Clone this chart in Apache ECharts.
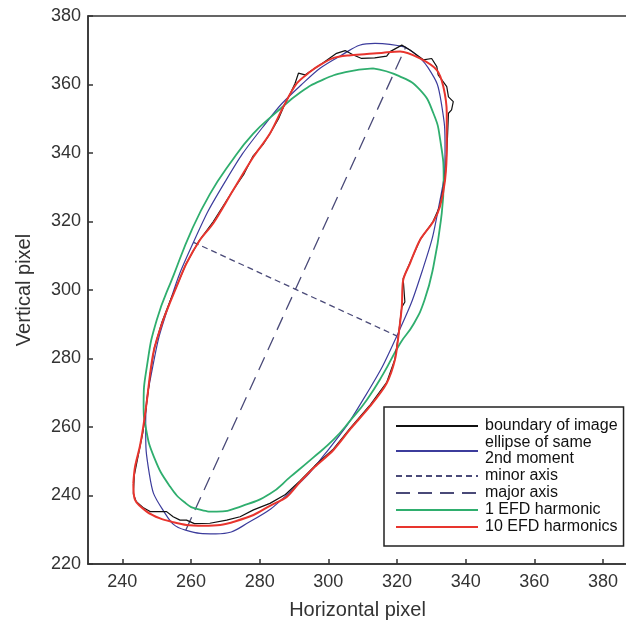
<!DOCTYPE html>
<html>
<head>
<meta charset="utf-8">
<script src="https://cdn.jsdelivr.net/npm/echarts@6/dist/echarts.min.js"></script>
<style>
html,body{margin:0;padding:0;background:#fff;}
#main{width:626px;height:625px;}
</style>
</head>
<body>
<div id="main"></div>
<script>
// tick labels
var xTicks = [240, 260, 280, 300, 320, 340, 360, 380];

// boundary of the object (traced pixels)
var boundary = [
	[243.2,240.5],[243.5,246.0],[244.8,252.5],[246.0,258.5],[246.6,263.0],[247.3,268.5],[248.2,276.0],[249.3,283.0],
	[251.5,290.5],[254.0,297.0],[256.0,301.5],[258.5,307.5],[262.3,314.3],[266.5,320.0],[270.0,325.5],[272.5,329.5],
	[275.5,334.0],[278.0,339.0],[281.0,342.5],[283.2,346.0],[285.5,350.0],[287.2,354.0],[289.0,357.5],[290.3,360.3],
	[291.3,363.3],[293.2,362.8],[295.0,364.0],[298.0,366.0],[302.4,369.1],[304.9,369.9],[307.3,368.6],[309.7,367.6],
	[313.5,367.8],[317.0,368.3],[318.0,369.6],[321.4,371.5],[323.8,370.1],[327.7,367.2],[330.1,367.6],[331.6,365.2],
	[332.0,362.8],[334.5,359.4],[335.0,356.4],[336.4,355.0],[335.9,352.6],[335.0,351.6],[334.6,342.0],[334.0,332.5],
	[332.5,324.5],[330.5,320.0],[326.8,314.8],[323.8,308.0],[321.8,303.3],[322.3,296.5],[321.4,295.0],[320.4,286.6],
	[319.4,279.8],[317.0,273.0],[312.0,266.2],[306.5,259.8],[301.5,253.6],[296.0,248.6],[291.8,244.3],[287.5,240.3],
	[283.0,237.7],[278.2,235.8],[274.3,233.8],[270.4,232.8],[265.5,231.9],[261.0,231.8],[258.7,232.8],[256.8,232.8],
	[254.8,233.8],[252.9,235.3],[249.0,235.3],[248.1,235.3],[246.0,236.5],[244.0,238.3],[243.2,240.5]
];

// ellipse with the same 2nd moment
var ellipse = [
	[322.4,370.9],[329.0,365.0],[332.9,354.7],[334.0,340.7],[332.1,324.0],[327.4,305.7],[320.1,286.9],[310.8,269.1],
	[300.1,253.5],[288.8,241.0],[277.6,232.6],[267.2,228.8],[258.4,229.9],[251.8,235.8],[247.9,246.1],[246.8,260.1],
	[248.7,276.8],[253.4,295.1],[260.7,313.9],[270.0,331.7],[280.7,347.3],[292.0,359.8],[303.2,368.2],[313.6,372.0],
	[322.4,370.9]
];

var minorAxis = [[260.6,314.0],[319.9,286.6]];
var majorAxis = [[258.5,229.9],[322.6,371.0]];

// 1 EFD harmonic
var efd1 = [
	[313.0,364.7],[320.5,362.5],[326.7,358.4],[330.6,351.6],[332.6,343.8],[333.6,332.0],[332.8,320.4],[330.6,306.8],
	[328.0,297.0],[324.8,290.0],[320.9,284.4],[316.0,275.5],[311.2,267.9],[306.5,262.0],[301.5,256.3],[295.5,251.0],
	[289.0,245.5],[283.0,240.5],[275.0,237.0],[267.5,235.3],[262.0,236.0],[258.5,237.7],[253.9,242.6],[249.2,251.3],
	[246.8,260.0],[246.2,266.5],[247.2,278.0],[250.0,291.2],[255.0,304.5],[260.2,317.5],[265.5,328.0],[271.4,337.0],
	[278.0,345.5],[285.0,352.0],[292.0,357.8],[298.0,361.2],[305.0,363.6],[313.0,364.7]
];

// 10 EFD harmonics
var efd10 = [
	[243.2,243.6],[243.7,248.4],[245.1,254.3],[246.1,260.1],[247.0,266.5],[249.0,281.5],[251.9,291.2],[255.8,301.0],
	[258.7,307.8],[262.6,314.6],[266.5,319.5],[272.3,329.2],[278.2,338.9],[283.0,345.7],[286.9,353.5],[290.8,360.3],
	[294.7,363.7],[297.6,365.7],[301.4,367.7],[306.0,368.5],[311.2,368.9],[316.0,369.3],[320.9,369.6],[326.7,367.6],
	[331.6,364.2],[333.5,359.4],[334.5,351.6],[334.5,341.8],[334.0,332.1],[332.5,324.3],[330.6,320.0],[326.7,314.6],
	[323.8,307.8],[321.8,302.9],[321.4,295.1],[320.4,286.4],[319.4,279.6],[317.0,272.8],[312.1,266.0],[306.5,259.5],
	[301.5,253.3],[296.0,248.3],[291.8,244.0],[287.9,239.6],[283.0,237.0],[278.2,234.3],[273.0,232.5],[268.5,231.4],
	[263.5,231.2],[258.7,231.4],[254.5,232.3],[251.0,233.3],[247.1,235.3],[243.7,238.7],[243.2,243.6]
];

var myChart = echarts.init(document.getElementById('main'));

var font = 'Liberation Sans, Arial, sans-serif';

var option = {
	animation: false,
	backgroundColor: '#fff',
	grid: {
		left: 88, top: 16, width: 539, height: 548,
		show: true, borderColor: '#333', borderWidth: 1.5,
		outerBoundsMode: 'none'
	},
	legend: {
		orient: 'vertical',
		left: 384, top: 407,
		padding: [11, 6, 11, 11],
		itemGap: 1,
		itemWidth: 82,
		itemHeight: 14,
		selectedMode: false,
		backgroundColor: '#fff',
		borderColor: '#222',
		borderWidth: 1.5,
		borderRadius: 0,
		// hide the symbol drawn in the middle of each legend line
		itemStyle: { opacity: 0, borderWidth: 0 },
		textStyle: { fontFamily: font, fontSize: 16, lineHeight: 16, color: '#111', padding: [0, 0, 0, 2] },
		data: ['boundary of image', 'ellipse of same\n2nd moment', 'minor axis', 'major axis', '1 EFD harmonic', '10 EFD harmonics']
	},
	xAxis: {
		type: 'value',
		min: 230, max: 387,
		name: 'Horizontal pixel',
		nameLocation: 'middle',
		nameGap: 36,
		nameTextStyle: { fontFamily: font, fontSize: 20, color: '#333' },
		axisLine: { show: true, lineStyle: { color: '#333', width: 1.5 } },
		axisTick: { show: true, inside: true, length: 5, lineStyle: { color: '#333', width: 1.5 }, customValues: xTicks },
		axisLabel: { fontFamily: font, fontSize: 18, color: '#333', margin: 9, customValues: xTicks },
		splitLine: { show: false }
	},
	yAxis: {
		type: 'value',
		min: 220, max: 380, interval: 20,
		name: 'Vertical pixel',
		nameLocation: 'middle',
		nameGap: 54,
		nameTextStyle: { fontFamily: font, fontSize: 20, color: '#333' },
		axisLine: { show: true, lineStyle: { color: '#333', width: 1.5 } },
		axisTick: { show: true, inside: true, length: 5, lineStyle: { color: '#333', width: 1.5 } },
		axisLabel: { fontFamily: font, fontSize: 18, color: '#333', margin: 7 },
		splitLine: { show: false }
	},
	series: [
		{
			name: 'minor axis', type: 'line', data: minorAxis, symbol: 'none',
			itemStyle: { color: '#4a4a78' },
			lineStyle: { color: '#4a4a78', width: 1.3, type: [6, 4] }
		},
		{
			name: 'major axis', type: 'line', data: majorAxis, symbol: 'none',
			itemStyle: { color: '#4a4a78' },
			lineStyle: { color: '#4a4a78', width: 1.3, type: [14, 8] }
		},
		{
			name: 'ellipse of same\n2nd moment', type: 'line', data: ellipse, symbol: 'none', smooth: true,
			itemStyle: { color: '#3c3c9c' },
			lineStyle: { color: '#3c3c9c', width: 1.2 }
		},
		{
			name: '1 EFD harmonic', type: 'line', data: efd1, symbol: 'none', smooth: true,
			itemStyle: { color: '#2fae6e' },
			lineStyle: { color: '#2fae6e', width: 1.8 }
		},
		{
			name: 'boundary of image', type: 'line', data: boundary, symbol: 'none',
			itemStyle: { color: '#111' },
			lineStyle: { color: '#111', width: 1.2 }
		},
		{
			name: '10 EFD harmonics', type: 'line', data: efd10, symbol: 'none', smooth: 0.3,
			itemStyle: { color: '#e8352e' },
			lineStyle: { color: '#e8352e', width: 2 }
		}
	]
};

myChart.setOption(option);
</script>
</body>
</html>
